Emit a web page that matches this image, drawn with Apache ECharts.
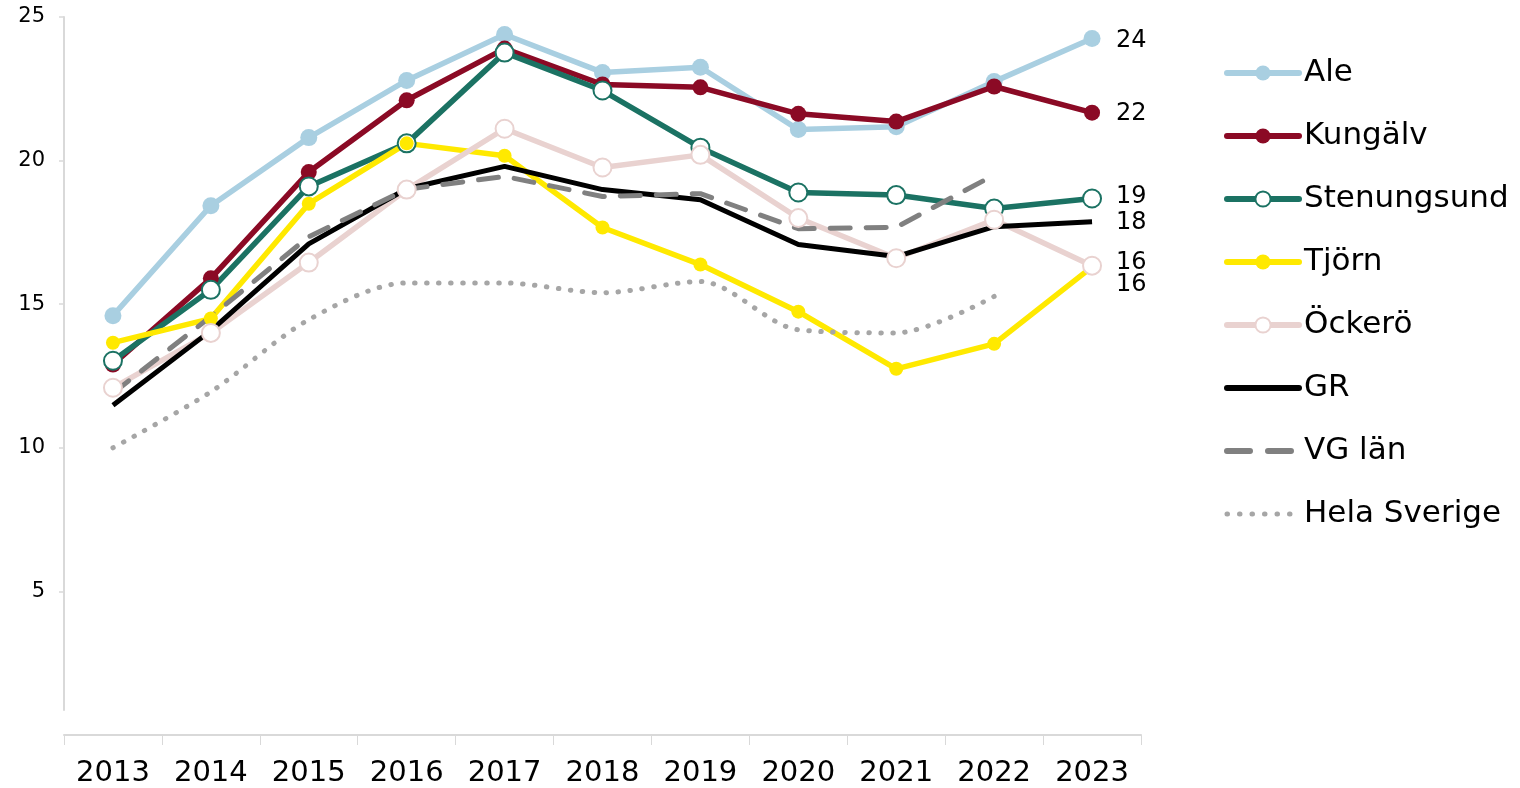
<!DOCTYPE html>
<html>
<head>
<meta charset="utf-8">
<script src="https://cdn.jsdelivr.net/npm/echarts@6/dist/echarts.min.js"></script>
<style>
  html, body { margin: 0; padding: 0; background: #fff; }
  #chart { width: 1520px; height: 788px; }
</style>
</head>
<body>
<div id="chart"></div>
<script>
var years = ['2013', '2014', '2015', '2016', '2017', '2018', '2019', '2020', '2021', '2022', '2023'];
var yTicks = [0, 5, 10, 15, 20, 25];

var ale         = [14.6, 18.43, 20.8, 22.79, 24.39, 23.07, 23.25, 21.08, 21.18, 22.75, 24.25];
var kungalv     = [12.9, 15.9, 19.6, 22.1, 23.9, 22.65, 22.55, 21.63, 21.36, 22.58, 21.67];
var stenungsund = [13.03, 15.5, 19.1, 20.6, 23.76, 22.44, 20.45, 18.89, 18.8, 18.33, 18.68];
var tjorn       = [13.66, 14.5, 18.5, 20.6, 20.17, 17.67, 16.38, 14.74, 12.75, 13.62, 16.3];
var ockero      = [12.09, 14.0, 16.45, 18.99, 21.11, 19.76, 20.2, 18.0, 16.6, 17.94, 16.34];
var gr          = [11.48, 14.08, 17.1, 19.02, 19.8, 18.99, 18.64, 17.08, 16.66, 17.7, 17.87];
var vgLan       = [11.9, 14.57, 17.35, 19.0, 19.45, 18.75, 18.85, 17.63, 17.68, 19.5];
var helaSverige = [10.0, 11.95, 14.46, 15.74, 15.74, 15.4, 15.79, 14.11, 14.0, 15.27];

var FONT = 'DejaVu Sans';
var VG_DASH = [20, 16];
var DOTS = [0.5, 11.5];

function endLbl(offsetY) {
    return {
        show: true,
        distance: 24,
        offset: [0, offsetY || 0],
        color: '#000',
        fontFamily: FONT,
        fontSize: 24,
        formatter: function (p) { return Math.round(p.value); }
    };
}

function markerLine(name, data, color, size, hollow, lblOffset) {
    return {
        name: name,
        type: 'line',
        data: data,
        symbol: 'circle',
        symbolSize: size,
        lineStyle: { color: color, width: 5.5 },
        itemStyle: hollow ? { color: '#fff', borderColor: color, borderWidth: 2 } : { color: color },
        emphasis: { disabled: true },
        endLabel: endLbl(lblOffset)
    };
}

var myChart = echarts.init(document.getElementById('chart'));
var option = {
    animation: false,
    legend: {
        orient: 'vertical',
        left: 1219,
        top: 51,
        itemWidth: 72,
        itemHeight: 19,
        itemGap: 29,
        lineStyle: { width: 6, cap: 'round' },
        textStyle: { fontFamily: FONT, fontSize: 31, color: '#000', lineHeight: 34 },
        data: [
            'Ale', 'Kungälv', 'Stenungsund', 'Tjörn', 'Öckerö',
            { name: 'GR', itemStyle: { opacity: 0 } },
            { name: 'VG län', itemStyle: { opacity: 0 }, lineStyle: { type: [23, 18] } },
            { name: 'Hela Sverige', itemStyle: { opacity: 0 }, lineStyle: { type: [0.5, 12], width: 5 } }
        ]
    },
    grid: [
        { left: 64, right: 379, top: 17, bottom: 53 },
        { left: 64, right: 379, top: 17, bottom: 78 }
    ],
    xAxis: [{
        type: 'category',
        data: years,
        boundaryGap: true,
        axisLine: { lineStyle: { color: '#d9d9d9', width: 2 } },
        axisTick: { show: true, length: 10, lineStyle: { color: '#d9d9d9' } },
        axisLabel: { fontFamily: FONT, fontSize: 29, color: '#000', margin: 24 }
    }, {
        gridIndex: 1,
        type: 'category',
        data: years,
        show: false
    }],
    yAxis: [{
        type: 'value',
        min: yTicks[0],
        max: yTicks[yTicks.length - 1],
        interval: 5,
        splitLine: { show: false },
        axisLine: { show: true, lineStyle: { color: 'rgba(0,0,0,0)' } },
        axisTick: { show: true, length: 5, lineStyle: { color: '#d9d9d9', width: 1.5 } },
        axisLabel: { fontFamily: FONT, fontSize: 21, color: '#000', margin: 19, showMinLabel: false }
    }, {
        gridIndex: 1,
        type: 'value',
        axisLine: { show: true, lineStyle: { color: '#d9d9d9', width: 2 } },
        axisTick: { show: false },
        axisLabel: { show: false },
        splitLine: { show: false }
    }],
    series: [
        markerLine('Ale', ale, '#a9cfe1', 17, false, 2),
        markerLine('Kungälv', kungalv, '#8b0a25', 16, false, 1),
        markerLine('Stenungsund', stenungsund, '#1b7263', 18, true, -2),
        markerLine('Tjörn', tjorn, '#ffe900', 14, false, 18),
        markerLine('Öckerö', ockero, '#e9d2d0', 18, true, -3),
        {
            name: 'GR',
            type: 'line',
            data: gr,
            showSymbol: false,
            symbol: 'none',
            lineStyle: { color: '#000', width: 5 },
            itemStyle: { color: '#000' },
            emphasis: { disabled: true },
            endLabel: endLbl(1)
        },
        {
            name: 'VG län',
            type: 'line',
            data: vgLan,
            showSymbol: false,
            symbol: 'none',
            lineStyle: { color: '#808080', width: 5, type: VG_DASH, cap: 'round' },
            itemStyle: { color: '#808080' },
            emphasis: { disabled: true }
        },
        {
            name: 'Hela Sverige',
            type: 'line',
            data: helaSverige,
            smooth: 0.3,
            showSymbol: false,
            symbol: 'none',
            lineStyle: { color: '#a6a6a6', width: 5, type: DOTS, cap: 'round' },
            itemStyle: { color: '#a6a6a6' },
            emphasis: { disabled: true }
        }
    ]
};
myChart.setOption(option);
window.addEventListener('resize', function () {
    myChart.resize();
});
</script>
</body>
</html>
